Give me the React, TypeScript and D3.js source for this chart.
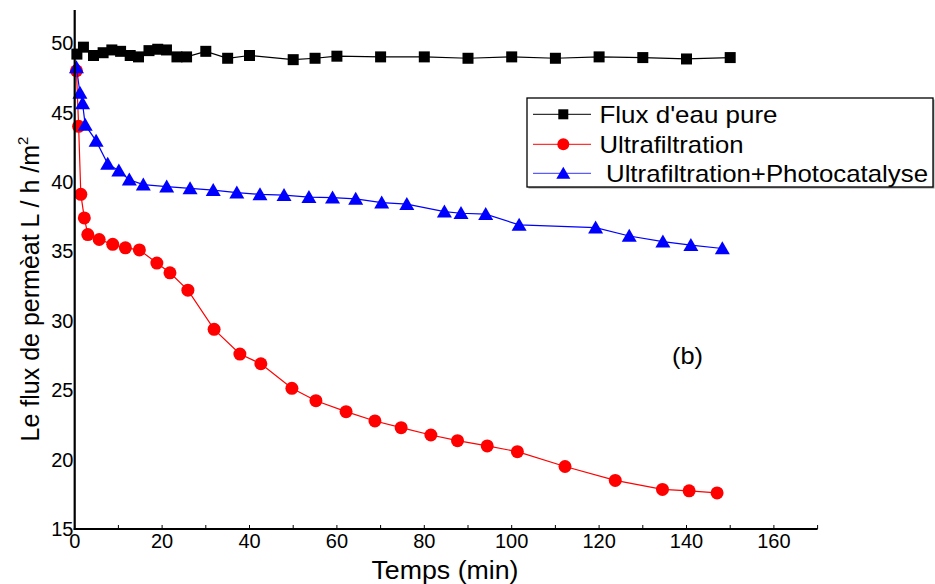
import React from "react";
import * as d3 from "d3";

const pureX = [0.5, 2, 4.3, 6.5, 8.5, 10.5, 12.7, 14.6, 17, 19, 21, 23.4, 25.6, 30, 35, 40, 50, 55, 60, 70, 80, 90, 100, 110, 120, 130, 140, 150];
const pureY = [49.2, 49.7, 49.1, 49.3, 49.5, 49.4, 49.1, 49.0, 49.45, 49.55, 49.5, 49.0, 49.0, 49.4, 48.9, 49.1, 48.8, 48.9, 49.05, 49.0, 49.0, 48.9, 49.0, 48.9, 49.0, 48.95, 48.85, 48.95];

const ufX = [0.4, 0.9, 1.4, 2.2, 3.0, 5.6, 8.7, 11.6, 14.8, 18.8, 21.8, 25.9, 31.9, 37.8, 42.6, 49.7, 55.2, 62.1, 68.7, 74.7, 81.5, 87.6, 94.4, 101.3, 112.2, 123.7, 134.5, 140.6, 147];
const ufY = [48.0, 44.0, 39.1, 37.4, 36.2, 35.85, 35.5, 35.25, 35.1, 34.15, 33.45, 32.2, 29.38, 27.6, 26.9, 25.13, 24.24, 23.45, 22.78, 22.3, 21.77, 21.36, 20.98, 20.57, 19.5, 18.5, 17.85, 17.75, 17.6];

const upX = [0.4, 1.2, 1.8, 2.4, 4.9, 7.55, 10.1, 12.5, 15.7, 21.05, 26.4, 31.7, 37.1, 42.4, 47.9, 53.6, 59, 64.3, 70.25, 76, 84.6, 88.4, 94.05, 101.7, 119.2, 126.9, 134.6, 141, 148.2];
const upY = [48.25, 46.4, 45.65, 44.1, 42.95, 41.3, 40.8, 40.15, 39.8, 39.65, 39.53, 39.4, 39.22, 39.1, 39.05, 38.9, 38.86, 38.77, 38.5, 38.4, 37.85, 37.74, 37.67, 36.9, 36.7, 36.1, 35.7, 35.45, 35.2];

const xTicks = [0, 20, 40, 60, 80, 100, 120, 140, 160];
const xMinorTicks = [10, 30, 50, 70, 90, 110, 130, 150, 170];
const yTicks = [15, 20, 25, 30, 35, 40, 45, 50];

const seriesNames = ["Flux d'eau pure", "Ultrafiltration", " Ultrafiltration+Photocatalyse"];

const FONT = "'Liberation Sans', Arial, Helvetica, sans-serif";

export default function App() {
  const x = d3.scaleLinear().domain([0, 170]).range([74.7, 817.6]);
  const y = d3.scaleLinear().domain([15, 50]).range([529, 43]);
  const yTop = 10;

  const line = d3.line<[number, number]>().x((d) => x(d[0])).y((d) => y(d[1]));
  const pure = pureX.map((v, i) => [v, pureY[i]] as [number, number]);
  const uf = ufX.map((v, i) => [v, ufY[i]] as [number, number]);
  const up = upX.map((v, i) => [v, upY[i]] as [number, number]);

  const tri = (cx: number, cy: number, w: number, h: number) =>
    `M${cx},${cy - h * 0.55} L${cx + w / 2},${cy + h * 0.45} L${cx - w / 2},${cy + h * 0.45} Z`;

  const legX = 527, legY = 98, legW = 406, legH = 89;
  const rows = [114.3, 144.3, 173.3];

  return (
    <svg width={935} height={584} style={{ position: "absolute", left: 0, top: 0, background: "#fff" }} fontFamily={FONT}>
      <rect x={0} y={0} width={935} height={584} fill="#fff" />
      {/* series lines */}
      <path d={line(uf) || ""} fill="none" stroke="#ff0000" strokeWidth={1.2} />
      {uf.map((d, i) => (
        <circle key={"u" + i} cx={x(d[0])} cy={y(d[1])} r={6.5} fill="#ff0000" />
      ))}
      <path d={line(up) || ""} fill="none" stroke="#0000ff" strokeWidth={1.2} />
      {up.map((d, i) => (
        <path key={"p" + i} d={tri(x(d[0]), y(d[1]), 15, 13)} fill="#0000ff" />
      ))}
      <path d={line(pure) || ""} fill="none" stroke="#000" strokeWidth={1.2} />
      {pure.map((d, i) => (
        <rect key={"s" + i} x={x(d[0]) - 5.5} y={y(d[1]) - 5.5} width={11} height={11} fill="#000" />
      ))}

      {/* axes */}
      <line x1={x(0)} x2={x(0)} y1={yTop} y2={y(15) + 1} stroke="#000" strokeWidth={2.2} />
      <line x1={x(0) - 1} x2={x(170)} y1={y(15)} y2={y(15)} stroke="#000" strokeWidth={2.2} />
      {xTicks.concat(xMinorTicks).map((t) => (
        <line key={"xt" + t} x1={x(t)} x2={x(t)} y1={y(15)} y2={y(15) - 4} stroke="#000" strokeWidth={1} />
      ))}
      {xTicks.map((t) => (
        <text key={"xl" + t} x={x(t)} y={548} textAnchor="middle" fontSize={20} fill="#000">
          {t}
        </text>
      ))}
      {yTicks.map((t) => (
        <text key={"yl" + t} x={73.5} y={y(t)} dy="0.36em" textAnchor="end" fontSize={20} fill="#000">
          {t}
        </text>
      ))}
      <text x={445} y={579} textAnchor="middle" fontSize={25} fill="#000" textLength={147} lengthAdjust="spacingAndGlyphs">
        Temps (min)
      </text>
      <text transform="translate(38.5,289) rotate(-90)" textAnchor="middle" fontSize={25} fill="#000">
        Le flux de permèat L / h /m
        <tspan dy={-11} fontSize={15}>2</tspan>
      </text>
      <text x={672} y={364} fontSize={24} fill="#000" textLength={31} lengthAdjust="spacingAndGlyphs">
        (b)
      </text>

      {/* legend */}
      <rect x={legX + 1.5} y={legY + 1.5} width={legW} height={legH} fill="#999" />
      <rect x={legX} y={legY} width={legW} height={legH} fill="#fff" stroke="#000" strokeWidth={1.3} />
      <line x1={533} x2={591} y1={rows[0]} y2={rows[0]} stroke="#000" strokeWidth={1} />
      <rect x={563.3 - 5} y={rows[0] - 5} width={10} height={10} fill="#000" />
      <line x1={533} x2={591} y1={rows[1]} y2={rows[1]} stroke="#ff0000" strokeWidth={1} />
      <circle cx={563.3} cy={rows[1]} r={6} fill="#ff0000" />
      <line x1={533} x2={591} y1={rows[2]} y2={rows[2]} stroke="#3333ff" strokeWidth={1} />
      <path d={tri(563.3, rows[2], 14, 12)} fill="#0000ff" />
      <text x={599.5} y={rows[0]} dy="0.36em" fontSize={24} fill="#000" textLength={178} lengthAdjust="spacingAndGlyphs">
        {seriesNames[0]}
      </text>
      <text x={599.5} y={rows[1]} dy="0.36em" fontSize={24} fill="#000" textLength={144} lengthAdjust="spacingAndGlyphs">
        {seriesNames[1]}
      </text>
      <text x={606} y={rows[2]} dy="0.36em" fontSize={24} fill="#000" textLength={322} lengthAdjust="spacingAndGlyphs">
        {seriesNames[2].trim()}
      </text>
    </svg>
  );
}
